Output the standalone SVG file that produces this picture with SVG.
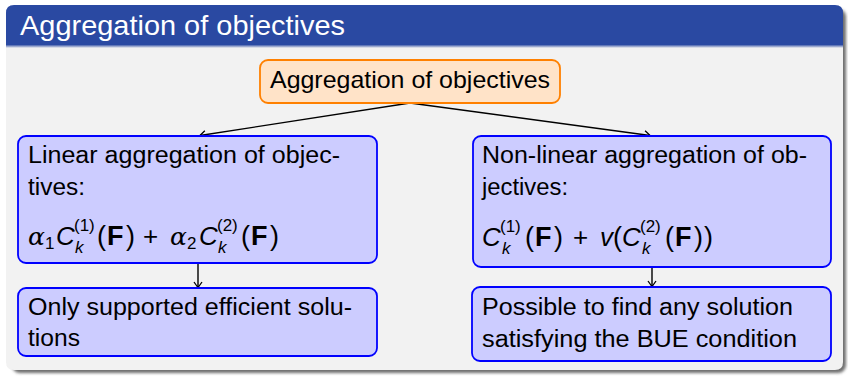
<svg xmlns="http://www.w3.org/2000/svg" width="848" height="377" viewBox="0 0 848 377">
<style>
.t{font-family:"Liberation Sans",Arial,sans-serif;font-size:23px;fill:#000}
.ti{font-family:"Liberation Sans",Arial,sans-serif;font-size:28px;fill:#fff}
.m{font-family:"Liberation Sans",Arial,sans-serif;font-size:27px;fill:#000}
.it{font-style:italic;font-size:26px}
.gr{font-family:"DejaVu Serif","Liberation Serif",serif;font-style:italic;font-size:25px}
.sm{font-size:17px}
.sb{font-size:17px}
.bf{font-weight:bold}
.op{font-size:26px}
.box{fill:#ccccff;stroke:#0000ff;stroke-width:1.8}
.root{fill:#ffe3c8;stroke:#ff8000;stroke-width:1.8}
.edge{stroke:#000;stroke-width:1.4;fill:none;marker-end:url(#arr)}
</style>
<defs>
<marker id="arr" markerUnits="userSpaceOnUse" orient="auto" markerWidth="12" markerHeight="12" refX="0" refY="0" viewBox="-7 -6 8 12" overflow="visible">
<path d="M-5.5,-4 Q-1.5,-1.2 0,0 Q-1.5,1.2 -5.5,4" fill="none" stroke="#000" stroke-width="1.3"/>
</marker>
<filter id="blur" x="-5%" y="-5%" width="110%" height="110%"><feGaussianBlur stdDeviation="1.6"/></filter>
<linearGradient id="tb" x1="0" y1="0" x2="0" y2="1">
<stop offset="0" stop-color="#2a49a2"/><stop offset="1" stop-color="#f2f2f2"/>
</linearGradient>
</defs>
<rect x="0" y="0" width="848" height="377" fill="#fff"/>
<g id="frame">
<rect x="12" y="9" width="834" height="364" rx="8" fill="#6e6e6e" filter="url(#blur)"/>
<path d="M6,46 H843 V362 Q843,370 835,370 H14 Q6,370 6,362 Z" fill="#f2f2f2"/>
<path d="M6,45 V13 Q6,5 14,5 H835 Q843,5 843,13 V45 Z" fill="#2a49a2"/>
<rect x="6" y="44.5" width="837" height="3.5" fill="url(#tb)"/>
<text class="ti" x="20" y="35" textLength="325" lengthAdjust="spacingAndGlyphs">Aggregation of objectives</text>
</g>
<g id="connectors">
<line class="edge" x1="410" y1="103" x2="200" y2="135.5"/>
<line class="edge" x1="410" y1="103" x2="650" y2="135.5"/>
<line class="edge" x1="198" y1="263" x2="198" y2="287.5"/>
<line class="edge" x1="652" y1="267" x2="652" y2="286.5"/>
</g>
<g id="root">
<rect class="root" x="260" y="60" width="300" height="43" rx="8"/>
<text class="t" x="270" y="88" textLength="280" lengthAdjust="spacingAndGlyphs" style="font-size:24px">Aggregation of objectives</text>
</g>
<g id="linear">
<rect class="box" x="18" y="136" width="359" height="127" rx="8"/>
<text class="t" x="28" y="163" textLength="312" lengthAdjust="spacingAndGlyphs">Linear aggregation of objec-</text>
<text class="t" x="28" y="195" textLength="57" lengthAdjust="spacingAndGlyphs">tives:</text>
<text class="m" y="245"><tspan class="gr" x="28">α</tspan><tspan class="sb" x="45" y="249">1</tspan><tspan class="it" x="56" y="245">C</tspan><tspan class="sm" x="74" y="231">(1)</tspan><tspan class="it sb" x="75" y="253">k</tspan><tspan x="97" y="245">(</tspan><tspan class="bf" x="107">F</tspan><tspan x="126">)</tspan><tspan class="op" x="143">+</tspan><tspan class="gr" x="170">α</tspan><tspan class="sb" x="187" y="249">2</tspan><tspan class="it" x="199" y="245">C</tspan><tspan class="sm" x="217" y="231">(2)</tspan><tspan class="it sb" x="218" y="253">k</tspan><tspan x="241" y="245">(</tspan><tspan class="bf" x="251">F</tspan><tspan x="270">)</tspan></text>
</g>
<g id="nonlinear">
<rect class="box" x="473" y="136" width="358" height="131" rx="8"/>
<text class="t" x="482" y="163" textLength="325" lengthAdjust="spacingAndGlyphs">Non-linear aggregation of ob-</text>
<text class="t" x="482" y="195" textLength="86" lengthAdjust="spacingAndGlyphs">jectives:</text>
<text class="m" y="246"><tspan class="it" x="482">C</tspan><tspan class="sm" x="500" y="232">(1)</tspan><tspan class="it sb" x="502" y="254">k</tspan><tspan x="525" y="246">(</tspan><tspan class="bf" x="535">F</tspan><tspan x="554">)</tspan><tspan class="op" x="573">+</tspan><tspan class="it" x="600">v</tspan><tspan x="613">(</tspan><tspan class="it" x="622">C</tspan><tspan class="sm" x="640" y="232">(2)</tspan><tspan class="it sb" x="642" y="254">k</tspan><tspan x="665" y="246">(</tspan><tspan class="bf" x="675">F</tspan><tspan x="694">)</tspan><tspan x="704">)</tspan></text>
</g>
<g id="supported">
<rect class="box" x="18" y="288" width="359" height="68" rx="8"/>
<text class="t" x="28" y="315" textLength="324" lengthAdjust="spacingAndGlyphs">Only supported efficient solu-</text>
<text class="t" x="28" y="346" textLength="52" lengthAdjust="spacingAndGlyphs">tions</text>
</g>
<g id="possible">
<rect class="box" x="472" y="287" width="359" height="74" rx="8"/>
<text class="t" x="482" y="315" textLength="311" lengthAdjust="spacingAndGlyphs">Possible to find any solution</text>
<text class="t" x="482" y="347" textLength="315" lengthAdjust="spacingAndGlyphs">satisfying the BUE condition</text>
</g>
</svg>
